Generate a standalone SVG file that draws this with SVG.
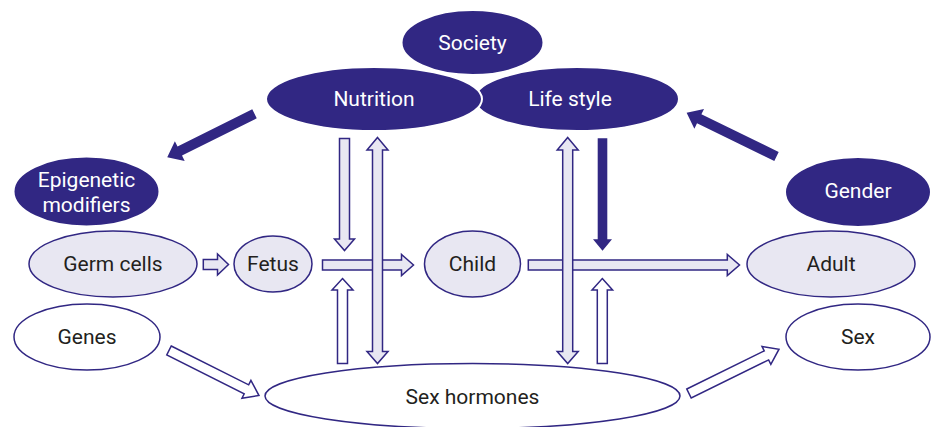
<svg xmlns="http://www.w3.org/2000/svg" width="931" height="427" viewBox="0 0 931 427">
<style>
.dark{fill:#312783;stroke:#ffffff;stroke-width:2}
.light{fill:#E8E7F2;stroke:#312783;stroke-width:1.5}
.white{fill:#ffffff;stroke:#312783;stroke-width:1.5}
.ta{fill:#E8E7F2;stroke:#312783;stroke-width:1.5;stroke-linejoin:miter}
.tw{fill:#ffffff;stroke:#312783;stroke-width:1.5}
.td{fill:#312783;stroke:none}
text{font-family:Roboto,"Liberation Sans",sans-serif;font-size:21px;text-anchor:middle;dominant-baseline:central}
.lt{fill:#ffffff}
.dt{fill:#231F20}
</style>
<rect width="931" height="427" fill="#ffffff"/>
<g id="connectors">
<polygon class="ta" points="203.3,259.5 217.5,259.5 217.5,254 228.5,264.5 217.5,275 217.5,269.5 203.3,269.5"/>
<polygon class="ta" points="322.5,260 401.5,260 401.5,254.5 413.5,265 401.5,275.5 401.5,270 322.5,270"/>
<polygon class="ta" points="528.3,260 727.3,260 727.3,254.5 739.5,265 727.3,275.5 727.3,270 528.3,270"/>
<polygon class="ta" points="339.5,138.5 349.5,138.5 349.5,239 354.5,239 344.5,250.5 334.5,239 339.5,239"/>
<polygon class="tw" points="342.5,278.5 353,290 347.5,290 347.5,363.5 337.5,363.5 337.5,290 332,290"/>
<polygon class="ta" points="377.5,137.5 388,150 382.5,150 382.5,351.5 388,351.5 377.5,363.5 367,351.5 372.5,351.5 372.5,150 367,150"/>
<polygon class="ta" points="567.7,137.5 578.2,150 572.7,150 572.7,351.5 578.2,351.5 567.7,363.5 557.2,351.5 562.7,351.5 562.7,150 557.2,150"/>
<polygon class="td" points="597.7,138.3 607.3,138.3 607.3,239.3 612,239.3 602.5,250.7 593,239.3 597.7,239.3"/>
<polygon class="tw" points="602.3,278.5 612.6,290 607.3,290 607.3,363.5 597.3,363.5 597.3,290 592,290"/>
<polygon class="td" transform="translate(254.5,113.8) rotate(153.5)" points="0,-5 83.5,-5 83.5,-11 97.5,0 83.5,11 83.5,5 0,5"/>
<polygon class="td" transform="translate(776.5,156.5) rotate(206)" points="0,-5 86,-5 86,-11 100,0 86,11 86,5 0,5"/>
<polygon class="tw" transform="translate(169,350.5) rotate(26.6)" points="0,-5 86.6,-5 86.6,-10 100.6,0 86.6,10 86.6,5 0,5"/>
<polygon class="tw" transform="translate(689,393.5) rotate(-26.2)" points="0,-5 86.3,-5 86.3,-10 100.3,0 86.3,10 86.3,5 0,5"/>
</g>
<g id="lifestyle"><ellipse class="dark" cx="577" cy="99" rx="102" ry="32"/><text class="lt" x="570" y="99">Life style</text></g>
<g id="nutrition"><ellipse class="dark" cx="374" cy="99" rx="108" ry="32"/><text class="lt" x="374" y="99">Nutrition</text></g>
<g id="society"><ellipse class="dark" cx="472.5" cy="42.5" rx="71" ry="32.5"/><text class="lt" x="472.5" y="43">Society</text></g>
<g id="epigenetic"><ellipse class="dark" cx="86.5" cy="191.5" rx="73" ry="35"/><text class="lt" x="86.5" y="180">Epigenetic</text><text class="lt" x="86.5" y="205">modifiers</text></g>
<g id="gender"><ellipse class="dark" cx="858" cy="192" rx="73" ry="35"/><text class="lt" x="858" y="191">Gender</text></g>
<g id="germcells"><ellipse class="light" cx="113" cy="264" rx="84" ry="33"/><text class="dt" x="113" y="264">Germ cells</text></g>
<g id="fetus"><ellipse class="light" cx="273" cy="264" rx="39" ry="28"/><text class="dt" x="273" y="264">Fetus</text></g>
<g id="child"><ellipse class="light" cx="472.5" cy="264" rx="48" ry="33"/><text class="dt" x="472.5" y="264">Child</text></g>
<g id="adult"><ellipse class="light" cx="831" cy="264" rx="84" ry="33"/><text class="dt" x="831" y="264">Adult</text></g>
<g id="genes"><ellipse class="white" cx="87" cy="337" rx="73" ry="33"/><text class="dt" x="87" y="337">Genes</text></g>
<g id="sex"><ellipse class="white" cx="858" cy="337" rx="72" ry="33"/><text class="dt" x="858" y="337">Sex</text></g>
<g id="sexhormones"><ellipse class="white" cx="472.5" cy="396" rx="207.5" ry="32.5"/><text class="dt" x="472.5" y="397">Sex hormones</text></g>
</svg>
